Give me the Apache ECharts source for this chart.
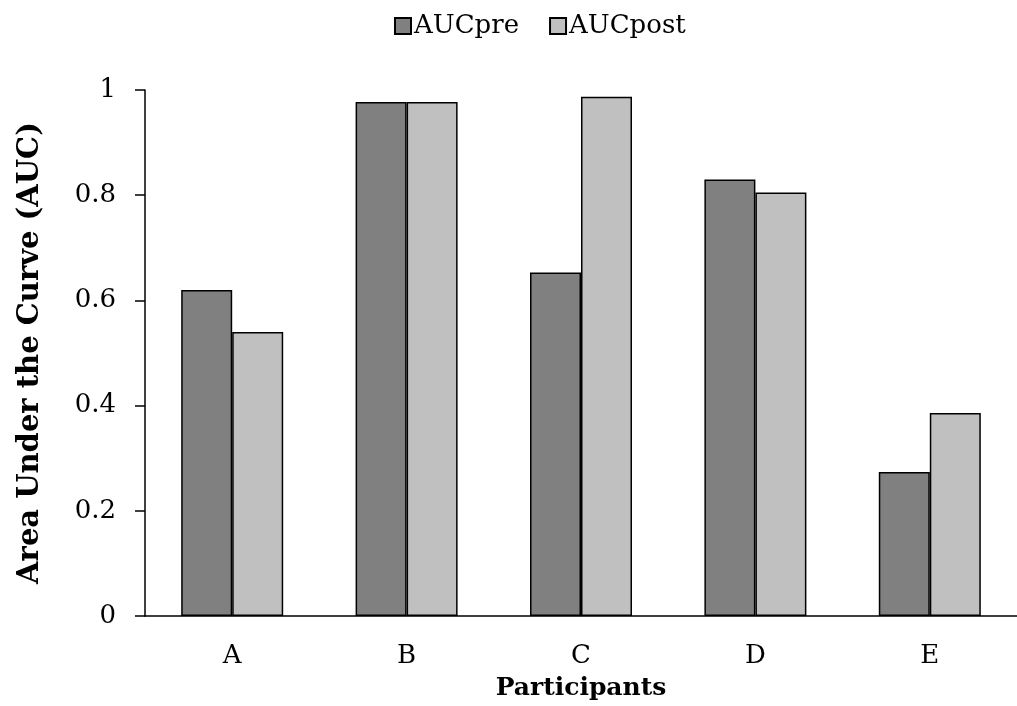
<!DOCTYPE html>
<html>
<head>
<meta charset="utf-8">
<script src="https://cdn.jsdelivr.net/npm/echarts@6/dist/echarts.min.js"></script>
<style>html,body{margin:0;padding:0;background:#fff}#c{width:1017px;height:706px}</style>
</head>
<body>
<div id="c"></div>
<script>
const categories = ['A', 'B', 'C', 'D', 'E'];
const aucPre = [0.620, 0.977, 0.653, 0.830, 0.274];
const aucPost = [0.540, 0.977, 0.987, 0.805, 0.386];
const seriesNames = ['AUCpre', 'AUCpost'];
const yTicks = [0, 0.2, 0.4, 0.6, 0.8, 1];

const serif = "'DejaVu Serif', 'Liberation Serif', serif";
const chart = echarts.init(document.getElementById('c'), null, {renderer: 'canvas'});
chart.setOption({
  animation: false,
  backgroundColor: '#fff',
  legend: {
    top: 8,
    left: 389,
    itemWidth: 16,
    itemHeight: 16,
    itemGap: 30,
    icon: 'rect',
    textStyle: {fontFamily: serif, fontSize: 26, color: '#000', padding: [0, 0, 0, -2]},
    data: seriesNames
  },
  grid: {left: 145, right: -8, top: 90, bottom: 90, containLabel: false},
  xAxis: {
    type: 'category',
    data: categories,
    name: 'Participants',
    nameLocation: 'middle',
    nameGap: 60,
    nameTextStyle: {fontFamily: serif, fontSize: 25, fontWeight: 'bold', color: '#000'},
    axisLine: {lineStyle: {color: '#000', width: 1.5}},
    axisTick: {show: false},
    axisLabel: {fontFamily: serif, fontSize: 26, color: '#000', margin: 27}
  },
  yAxis: {
    type: 'value',
    min: 0,
    max: 1,
    interval: 0.2,
    name: 'Area Under the Curve (AUC)',
    nameLocation: 'middle',
    nameGap: 100,
    nameRotate: 90,
    nameTextStyle: {fontFamily: serif, fontSize: 29, fontWeight: 'bold', color: '#000'},
    axisLine: {show: true, lineStyle: {color: '#000', width: 1.5}},
    axisTick: {show: true, length: 10, lineStyle: {color: '#000', width: 1.5}},
    splitLine: {show: false},
    axisLabel: {
      fontFamily: serif, fontSize: 26, color: '#000', margin: 29,
      formatter: function (v) { return yTicks.indexOf(Math.round(v * 10) / 10) >= 0 ? String(Math.round(v * 10) / 10) : ''; }
    }
  },
  series: [
    {
      name: seriesNames[0], type: 'bar', data: aucPre,
      barWidth: 51, barGap: '0%',
      itemStyle: {color: '#808080', borderColor: '#000', borderWidth: 1.5}
    },
    {
      name: seriesNames[1], type: 'bar', data: aucPost,
      barWidth: 51, barGap: '0%',
      itemStyle: {color: '#c0c0c0', borderColor: '#000', borderWidth: 1.5}
    }
  ]
});
</script>
</body>
</html>
